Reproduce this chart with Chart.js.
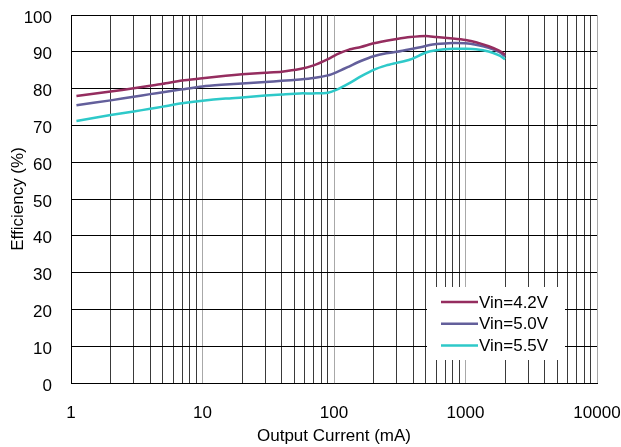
<!DOCTYPE html>
<html>
<head>
<meta charset="utf-8">
<script src="https://cdn.jsdelivr.net/npm/chart.js@4"></script>
<style>
html,body{margin:0;padding:0;background:#fff;}
#wrap{width:621px;height:447px;}
</style>
</head>
<body>
<div id="wrap"><canvas id="c" width="621" height="447"></canvas></div>
<script>
const currents = [1.1, 2, 3, 4, 5, 7, 10, 15, 20, 30, 40, 55, 70, 90, 105, 130, 160, 200, 250, 300, 380, 500, 600, 800, 1000, 1200, 1500, 1800, 2000];
const eff42 = [78.0, 79.2, 80.1, 80.8, 81.3, 82.2, 82.8, 83.5, 83.9, 84.3, 84.6, 85.3, 86.3, 88.0, 89.3, 90.6, 91.3, 92.3, 93.0, 93.5, 94.0, 94.3, 94.0, 93.6, 93.2, 92.6, 91.5, 90.3, 89.2];
const eff50 = [75.5, 76.8, 77.8, 78.5, 79.0, 79.8, 80.6, 81.1, 81.4, 81.8, 82.1, 82.5, 82.9, 83.6, 84.5, 86.0, 87.5, 88.8, 89.6, 90.0, 90.7, 91.6, 92.1, 92.4, 92.3, 91.9, 91.1, 90.0, 88.8];
const eff55 = [71.2, 72.8, 73.8, 74.5, 75.1, 76.0, 76.7, 77.3, 77.6, 78.1, 78.4, 78.7, 78.7, 78.9, 79.7, 81.4, 83.3, 85.1, 86.3, 87.0, 87.9, 89.8, 90.4, 90.8, 90.8, 90.7, 90.1, 89.0, 88.0];
const seriesNames = ['Vin=4.2V', 'Vin=5.0V', 'Vin=5.5V'];
const xTickValues = [1,2,3,4,5,6,7,8,9,10,20,30,40,50,60,70,80,90,100,200,300,400,500,600,700,800,900,1000,2000,3000,4000,5000,6000,7000,8000,9000,10000];
const yMin = 0, yMax = 100, yStep = 10;

const colors = ['#952d5f', '#635f9b', '#2ec9c9'];
const FONT = '"Liberation Sans", Arial, sans-serif';
const FS = 17;

function pts(vals){ return currents.map((x,i)=>({x:x, y:vals[i]})); }
const isDecade = v => Math.abs(Math.log10(v) - Math.round(Math.log10(v))) < 1e-9;
function zeroPad(scale){ scale.paddingLeft = 0; scale.paddingRight = 0; scale.paddingTop = 0; scale.paddingBottom = 0; }

const legendPlugin = {
  id: 'insideLegend',
  afterDraw(chart){
    const ctx = chart.ctx, a = chart.chartArea;
    const bx = a.right - 170, by = a.bottom - 96, bw = 138, bh = 73;
    ctx.save();
    ctx.fillStyle = '#fff';
    ctx.fillRect(bx, by, bw, bh);
    ctx.font = FS + 'px ' + FONT;
    ctx.textBaseline = 'middle';
    ctx.textAlign = 'left';
    chart.data.datasets.forEach((ds, i) => {
      const yy = by + 15 + i * 21.7;
      ctx.strokeStyle = ds.borderColor;
      ctx.lineWidth = 2.5;
      ctx.beginPath();
      ctx.moveTo(bx + 14, yy);
      ctx.lineTo(bx + 51, yy);
      ctx.stroke();
      ctx.fillStyle = '#000';
      ctx.fillText(ds.label, bx + 52, yy + 1);
    });
    ctx.restore();
  }
};

new Chart(document.getElementById('c'), {
  type: 'line',
  data: {
    datasets: [
      {label: seriesNames[0], data: pts(eff42), borderColor: colors[0]},
      {label: seriesNames[1], data: pts(eff50), borderColor: colors[1]},
      {label: seriesNames[2], data: pts(eff55), borderColor: colors[2]}
    ].map(d => Object.assign(d, {borderWidth: 2.5, pointRadius: 0, tension: 0.25, fill: false}))
  },
  options: {
    responsive: false,
    animation: false,
    events: [],
    layout: {padding: {top: 15, right: 24, left: 0, bottom: 0}},
    plugins: {legend: {display: false}, tooltip: {enabled: false}},
    scales: {
      x: {
        type: 'logarithmic',
        min: 1, max: 10000,
        afterBuildTicks(scale){ scale.ticks = xTickValues.map(v => ({value: v, major: isDecade(v)})); },
        afterFit(scale){ scale.height = 64; zeroPad(scale); },
        ticks: {
          autoSkip: false, maxRotation: 0, padding: 20,
          color: '#000', font: {family: FONT, size: FS},
          callback(v){ return isDecade(v) ? String(v) : ''; }
        },
        grid: {
          drawTicks: false,
          color: ctx => (ctx.tick && isDecade(ctx.tick.value)) ? '#a8a8a8' : '#3a3a3a',
          lineWidth: 1
        },
        border: {color: '#000', width: 1},
        title: {display: true, text: 'Output Current (mA)', color: '#000', font: {family: FONT, size: FS}, padding: {top: 0, bottom: 0}}
      },
      y: {
        type: 'linear',
        min: yMin, max: yMax,
        afterFit(scale){ scale.width = 71; zeroPad(scale); },
        ticks: {stepSize: yStep, padding: 19, labelOffset: 3, color: '#000', font: {family: FONT, size: FS}},
        grid: {drawTicks: false, color: '#000', lineWidth: 1},
        border: {color: '#000', width: 1},
        title: {display: true, text: 'Efficiency (%)', color: '#000', font: {family: FONT, size: FS}, padding: {top: 8, bottom: 0}}
      }
    }
  },
  plugins: [legendPlugin]
});
</script>
</body>
</html>
